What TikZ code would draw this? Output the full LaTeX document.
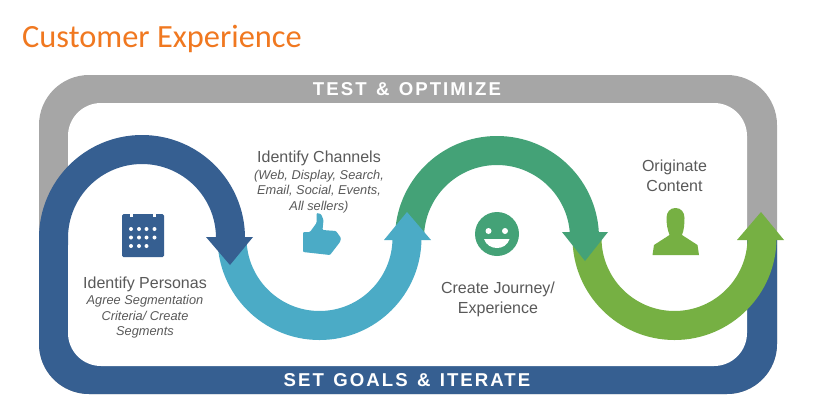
\documentclass[tikz,border=0pt]{standalone}
\usepackage{fontspec}
\setmainfont{Liberation Sans}
\newfontfamily\titlefont{Carlito}
\newfontfamily\bandfont[LetterSpace=11,WordSpace=1.3]{Liberation Sans}
\usetikzlibrary{positioning}
\definecolor{framegrey}{HTML}{A6A6A6}
\definecolor{bandblue}{HTML}{365F91}
\definecolor{swooptealc}{HTML}{4BABC6}
\definecolor{swoopgreen}{HTML}{44A277}
\definecolor{swooplime}{HTML}{76B043}
\definecolor{labelgrey}{HTML}{595959}
\definecolor{titleorange}{HTML}{F07820}

\begin{document}
\begin{tikzpicture}
			[x=1pt,y=-1pt,
			swoop/.style={line width=29pt},
			heading/.style={text=labelgrey,align=center,inner sep=0pt,font=\fontsize{16}{20}\selectfont},
			detail/.style={text=labelgrey,align=center,inner sep=0pt,font=\itshape\fontsize{12.8}{15.5}\selectfont},
			bandtext/.style={text=white,inner sep=0pt,font=\bandfont\bfseries\fontsize{18.6}{18.6}\selectfont},
			]
			\useasboundingbox (0,0) rectangle (827,408);
			\node (title) [anchor=base west,inner sep=0pt,text=titleorange,font=\titlefont\fontsize{32.4}{32.4}\selectfont] at (22,47) {Customer Experience};
			% frame
			\fill[framegrey,rounded corners=50pt] (39,75) rectangle (777,394);
			\begin{scope}
				\clip (30,240) rectangle (790,400);
				\fill[bandblue,rounded corners=50pt] (39,75) rectangle (777,394);
			\end{scope}
			\fill[white,rounded corners=33pt] (68,103) rectangle (747,366);
			\node (test) [bandtext] at (407,89) {TEST \& OPTIMIZE};
			\node (goals) [bandtext] at (407,380) {SET GOALS \& ITERATE};
			% swoops
			\draw[swooplime,swoop] (587,238) arc (180:0:87.5);
			\fill[swooplime] (737,240) -- (784,240) -- (761,212) -- cycle;
			\draw[swoopgreen,swoop] (409.5,238) arc (180:360:87.5) -- (584.5,232);
			\fill[swoopgreen] (562,232) -- (608,232) -- (585,261) -- cycle;
			\draw[swooptealc,swoop] (232,238) arc (180:0:87.5);
			\fill[swooptealc] (384,240) -- (431,240) -- (407,212) -- cycle;
			\draw[bandblue,swoop] (53.5,245) -- (53.5,238) arc (180:360:88.5);
			\fill[bandblue] (206,237) -- (253,237) -- (230,265) -- cycle;
			% icons
			\fill[bandblue,rounded corners=1.5pt] (122,214) rectangle (164,257);
			\fill[white] (130,214) rectangle (133,217);
			\fill[white] (153,214) rectangle (156,217);
			\foreach \col in {131,139,146.5,154.5}
				\foreach \row in {229,237.5}
					\fill[white] (\col,\row) circle (2);
			\foreach \col in {131,139,146.5}
				\fill[white] (\col,246) circle (2);
			\fill[swooptealc,rounded corners=1pt] (303,232) -- (310,232) -- (316.5,223) -- (316.5,213) -- (321,214) -- (323.5,220) -- (322.5,230) -- (336,231) -- (341,238) -- (340,242) -- (330,255) -- (303,252) -- cycle;
			\fill[swoopgreen] (497,234) circle (22);
			\fill[white] (488.5,231) circle (3);
			\fill[white] (505,231) circle (3);
			\fill[white] (484,239) .. controls (488,251) and (506,251) .. (509.5,239) -- cycle;
			\fill[swooplime] (675.5,208) .. controls (670,208) and (666.5,212) .. (666.5,218) .. controls (666.5,224) and (667.5,230) .. (669.5,235) -- (654,245) -- (652.5,255) -- (699,255) -- (697.5,245) -- (682,235) .. controls (684,230) and (684.5,224) .. (684.5,218) .. controls (684.5,212) and (681,208) .. (675.5,208) -- cycle;
			% labels
			\node (personas) [heading] at (145,284) {Identify Personas};
			\node (segments) [detail,below=3.5pt of personas] {Agree Segmentation\\Criteria/ Create\\Segments};
			\node (channels) [heading] at (319,158.5) {Identify Channels};
			\node (sellers) [detail,below=3.5pt of channels] {(Web, Display, Search,\\Email, Social, Events,\\All sellers)};
			\node (journey) [heading] at (498,299.5) {Create Journey/\\Experience};
			\node (content) [heading] at (674.5,176) {Originate\\Content};
\end{tikzpicture}
\end{document}
